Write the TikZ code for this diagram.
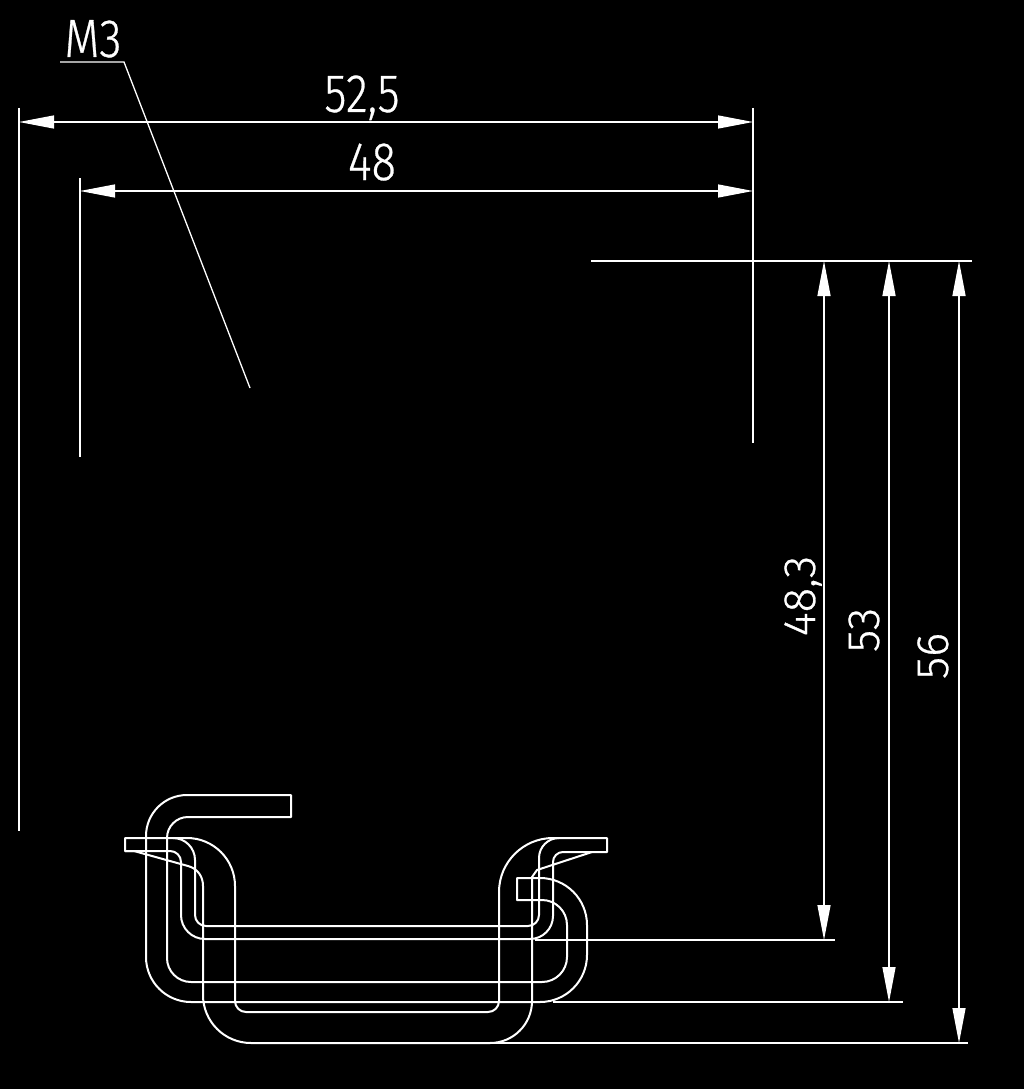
\documentclass[tikz,border=0pt]{standalone}
\usepackage{fontspec}
\usetikzlibrary{arrows.meta}
\newfontfamily\dimfont[FakeBold=.6]{Fira Sans Light}
\tikzset{
  rail/.style={white, line width=2pt, line join=round},
  thinline/.style={white, line width=1.3pt},
  dimline/.style={thinline, <->, >={Triangle[length=35pt,width=13pt]}},
  dimtext/.style={white, font=\dimfont\fontsize{54}{54}\selectfont, inner sep=0pt, anchor=base, xscale=.84},
  dimtextup/.style={dimtext, xscale=1, yscale=.85, rotate=90},
}
\begin{document}
\begin{tikzpicture}[x=1pt, y=1pt]
\useasboundingbox (0,0) rectangle (1024,-1089);
\fill[black] (0,0) rectangle (1024,-1089);
% end points of the dimensions
\coordinate (outerL) at (19,-122);
\coordinate (outerR) at (753,-122);
\coordinate (innerL) at (80,-191);
\coordinate (innerR) at (753,-191);
\coordinate (railTop) at (824,-261);
\coordinate (railLow) at (824,-940);
\coordinate (foldTop) at (889,-261);
\coordinate (foldLow) at (889,-1002);
\coordinate (clipTop) at (959,-261);
\coordinate (clipLow) at (959,-1043);
% extension lines
\draw[thinline] (19,-108) -- (19,-831);
\draw[thinline] (80,-178) -- (80,-457);
\draw[thinline] (753,-108) -- (753,-443);
\draw[thinline] (591,-261) -- (972,-261);
\draw[thinline] (535,-940) -- (835,-940);
\draw[thinline] (553,-1002) -- (903,-1002);
\draw[thinline] (490,-1043) -- (968,-1043);
% dimensions
\draw[dimline] (outerL) -- (outerR);
\draw[dimline] (innerL) -- (innerR);
\draw[dimline] (railTop) -- (railLow);
\draw[dimline] (foldTop) -- (foldLow);
\draw[dimline] (clipTop) -- (clipLow);
\node[dimtext] (lblWide) at (362,-112) {52,5};
\node[dimtext] (lblNarrow) at (372,-180) {48};
\node[dimtextup] (lblRail) at (815,-596) {48,3};
\node[dimtextup] (lblFold) at (879,-630) {53};
\node[dimtextup] (lblClip) at (948,-656) {56};
% thread call-out
\node[dimtext] (lblThread) at (93,-57) {M3};
\draw[thinline] (60,-62) -- (124,-62) -- (250,-388);
% hook piece
\draw[rail] (291,-795) -- (187,-795) arc (90:180:41pt) -- (146,-957) arc (180:270:45pt)
  -- (540,-1002) arc (-90:0:47pt) -- (587,-925) arc (0:90:47pt) -- (517,-878) -- (517,-900)
  -- (542,-900) arc (90:0:25pt) -- (567,-957) arc (0:-90:25pt) -- (191,-982)
  arc (270:180:24pt) -- (167,-838) arc (180:90:21pt) -- (291,-817) -- cycle;
% channel, outer skin
\draw[rail] (125,-838) -- (125,-851) -- (134,-851) -- (188,-866) to [out=-15, in=90] (203,-886) -- (203,-995)
  arc (180:270:48pt) -- (490,-1043) arc (-90:0:42pt) -- (532,-877) -- (537,-870) -- (592,-852)
  -- (607,-852) -- (607,-838) -- (553,-838) arc (90:180:54pt) -- (499,-1001) arc (0:-90:11pt)
  -- (246,-1012) arc (270:180:11pt) -- (235,-886) arc (0:90:48pt) -- cycle;
% channel, inner skin
\draw[rail] (173,-838) arc (90:0:22pt) -- (195,-915) arc (180:270:11pt) -- (528,-926)
  arc (-90:0:11pt) -- (539,-858) arc (180:90:20pt);
\draw[rail] (125,-851) -- (170,-851) arc (90:0:11pt) -- (181,-915) arc (180:270:24pt)
  -- (530,-939) arc (-90:0:23pt) -- (553,-862) arc (180:90:10pt) -- (592,-852);
\end{tikzpicture}
\end{document}
